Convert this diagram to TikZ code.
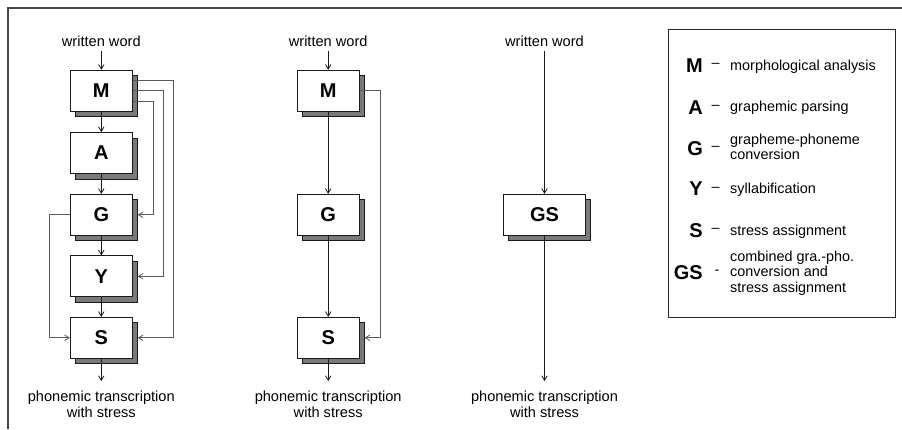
\documentclass[tikz,border=0pt]{standalone}
\usepackage{fontspec}
\setmainfont{Liberation Sans}
\usetikzlibrary{arrows.meta,shadows,calc}
\begin{document}
\begin{tikzpicture}[x=1pt,y=-1pt,
  box/.style={draw=black!90, line width=0.9pt, fill=white, minimum width=62pt, minimum height=41pt, inner sep=0pt,
    font=\fontsize{20}{24}\selectfont\bfseries,
    drop shadow={shadow xshift=5pt, shadow yshift=-5.5pt, fill=black!52, draw=black!90, line width=0.9pt, opacity=1}},
  txt/.style={font=\fontsize{14.6}{15.5}\selectfont, inner xsep=0pt, align=center},
  intxt/.style={txt, inner ysep=4pt},
  outtxt/.style={txt, inner ysep=10pt, anchor=north},
  arr/.style={-{Straight Barb[length=4.5pt,width=5.5pt]}, line width=0.8pt, draw=black!90},
  fb/.style={arr, draw=black!65},
  lett/.style={font=\fontsize{20}{24}\selectfont\bfseries, inner sep=0pt, anchor=east},
  dsh/.style={font=\fontsize{14.4}{15}\selectfont, inner sep=0pt, anchor=west},
  desc/.style={font=\fontsize{14.4}{15.5}\selectfont, inner sep=0pt, anchor=west, align=left}
]
\useasboundingbox (0,0) rectangle (902,429);
\fill[white] (0,0) rectangle (902,429);
% frame
\draw[black!72, line width=1.3pt] (8,429) -- (8,8) -- (902,8);

% column 1
\node[intxt] (in1) at (101.3,41.5) {written word};
\node[box] (c1M) at (101.3,90.7) {M};
\node[box] (c1A) at (101.3,153) {A};
\node[box] (c1G) at (101.3,214.8) {G};
\node[box] (c1Y) at (101.3,276.3) {Y};
\node[box] (c1S) at (101.3,337.8) {S};
\node[outtxt] (out1) at (101.3,381) {phonemic transcription\\with stress};
\draw[arr] (in1.south) -- (c1M.north);
\draw[arr] (c1M.south) -- (c1A.north);
\draw[arr] (c1A.south) -- (c1G.north);
\draw[arr] (c1G.south) -- (c1Y.north);
\draw[arr] (c1Y.south) -- (c1S.north);
\draw[arr] (c1S.south) -- (out1.north);
\draw[fb] ([yshift=10.4pt]c1M.east) -- ++(41,0) |- ([xshift=5pt]c1S.east);
\draw[fb] (c1M.east) -- ++(31,0) |- ([xshift=5pt]c1Y.east);
\draw[fb] ([yshift=-10.3pt]c1M.east) -- ++(20.4,0) |- ([xshift=5pt]c1G.east);
\draw[fb] (c1G.west) -- ++(-20.3,0) |- (c1S.west);

% column 2
\node[intxt] (in2) at (328.2,41.5) {written word};
\node[box] (c2M) at (328.2,90.7) {M};
\node[box] (c2G) at (328.2,214.8) {G};
\node[box] (c2S) at (328.2,337.8) {S};
\node[outtxt] (out2) at (328.2,381) {phonemic transcription\\with stress};
\draw[arr] (in2.south) -- (c2M.north);
\draw[arr] (c2M.south) -- (c2G.north);
\draw[arr] (c2G.south) -- (c2S.north);
\draw[arr] (c2S.south) -- (out2.north);
\draw[fb] (c2M.east) -- ++(21,0) |- ([xshift=5pt]c2S.east);

% column 3
\node[intxt] (in3) at (544.5,41.5) {written word};
\node[box, minimum width=82pt] (c3GS) at (544.5,214.8) {GS};
\node[outtxt] (out3) at (544.5,381) {phonemic transcription\\with stress};
\draw[arr] (in3.south) -- (c3GS.north);
\draw[arr] (c3GS.south) -- (out3.north);

% legend
\node[draw=black!85, line width=0.9pt, anchor=north west, minimum width=226.7pt, minimum height=288pt, inner sep=0pt] (leg) at (668.3,29.3) {};
\node[lett] (lM) at (703,65.7) {M};
\node[dsh] (dM) at (711.5,65.7) {–};
\node[desc] (tM) at (730,66.5) {morphological analysis};
\node[lett] (lA) at (703,107.3) {A};
\node[dsh] (dA) at (711.5,107.3) {–};
\node[desc] (tA) at (730,108) {graphemic parsing};
\node[lett] (lG) at (703,148.3) {G};
\node[dsh] (dG) at (711.5,148.3) {–};
\node[desc] (tG) at (730,147) {grapheme-phoneme\\conversion};
\node[lett] (lY) at (703,189) {Y};
\node[dsh] (dY) at (711.5,189) {–};
\node[desc] (tY) at (730,190) {syllabification};
\node[lett] (lS) at (703,230.7) {S};
\node[dsh] (dS) at (711.5,230.7) {–};
\node[desc] (tS) at (730,231.5) {stress assignment};
\node[lett] (lGS) at (703,272.7) {GS};
\node[dsh] (dGS) at (714.5,272.7) {-};
\node[desc] (tGS) at (730,273) {combined gra.-pho.\\conversion and\\stress assignment};
\end{tikzpicture}
\end{document}
